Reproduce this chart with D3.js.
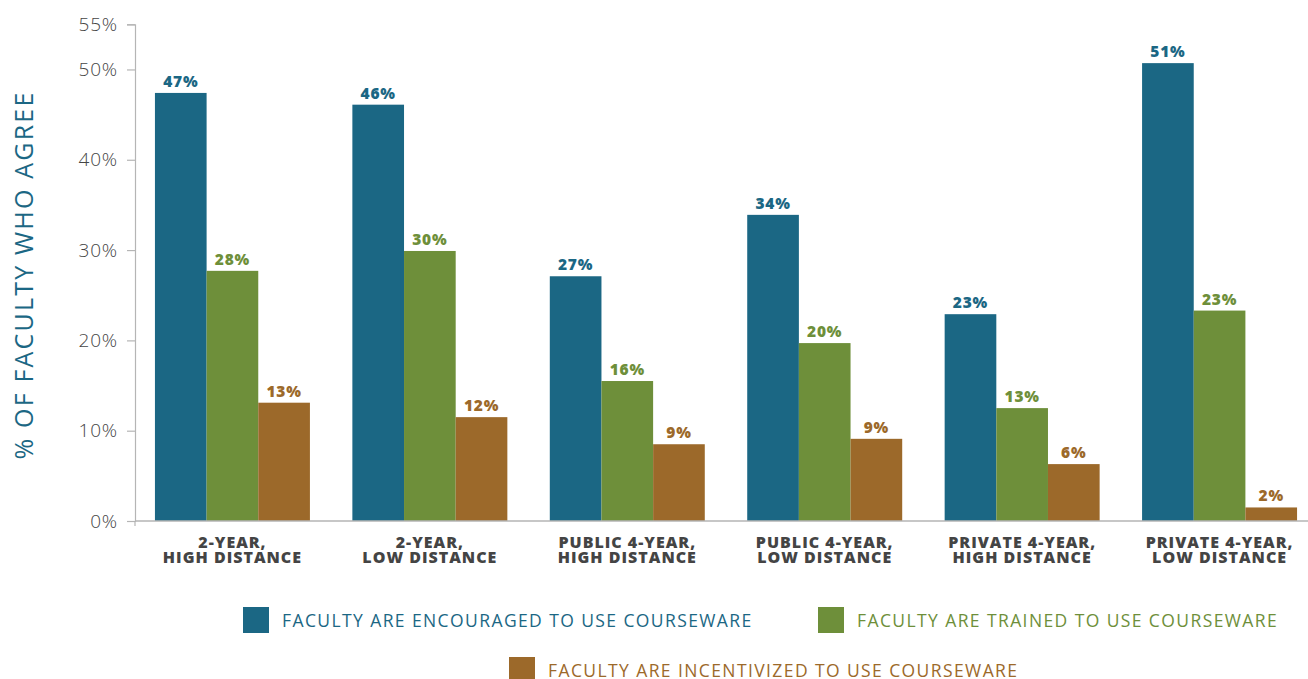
<!DOCTYPE html>
<html><head><meta charset="utf-8">
<script src="https://cdn.jsdelivr.net/npm/d3@7"></script>
<style>body{margin:0;background:#fff}svg{display:block}</style>
</head><body>
<svg id="c" width="1308" height="679"></svg>
<script>
const categories = [
  ["2-YEAR,", "HIGH DISTANCE"],
  ["2-YEAR,", "LOW DISTANCE"],
  ["PUBLIC 4-YEAR,", "HIGH DISTANCE"],
  ["PUBLIC 4-YEAR,", "LOW DISTANCE"],
  ["PRIVATE 4-YEAR,", "HIGH DISTANCE"],
  ["PRIVATE 4-YEAR,", "LOW DISTANCE"]
];
const seriesNames = [
  "FACULTY ARE ENCOURAGED TO USE COURSEWARE",
  "FACULTY ARE TRAINED TO USE COURSEWARE",
  "FACULTY ARE INCENTIVIZED TO USE COURSEWARE"
];
const encouraged = [47.4, 46.1, 27.1, 33.9, 22.9, 50.7];
const trained = [27.7, 29.9, 15.5, 19.7, 12.5, 23.3];
const incentivized = [13.1, 11.5, 8.5, 9.1, 6.3, 1.5];
const encouragedLabels = ["47%", "46%", "27%", "34%", "23%", "51%"];
const trainedLabels = ["28%", "30%", "16%", "20%", "13%", "23%"];
const incentivizedLabels = ["13%", "12%", "9%", "9%", "6%", "2%"];
const yTicks = [0, 10, 20, 30, 40, 50, 55];
const yTitle = "% OF FACULTY WHO AGREE";

const colors = ["#1b6784", "#6e8f3a", "#9c692a"];
const series = [
  {name: seriesNames[0], values: encouraged, labels: encouragedLabels},
  {name: seriesNames[1], values: trained, labels: trainedLabels},
  {name: seriesNames[2], values: incentivized, labels: incentivizedLabels}
];

const svg = d3.select("#c");
const y = d3.scaleLinear().domain([0, 55]).range([521, 24.3]);
const x0 = d3.scaleBand().domain(d3.range(categories.length)).range([135, 1317])
  .paddingInner(0.215).paddingOuter(0.101);
const x1 = d3.scaleBand().domain(d3.range(series.length)).range([0, x0.bandwidth()]);

// y axis
const yAxis = svg.append("g").attr("transform", "translate(135,0)")
  .call(d3.axisLeft(y).tickValues(yTicks).tickFormat(d => d + "%").tickSize(8).tickPadding(9));
yAxis.select(".domain").attr("stroke", "#b5b5b5").attr("stroke-width", 1.2);
yAxis.selectAll(".tick line").attr("stroke", "#b5b5b5").attr("stroke-width", 1.2);
yAxis.selectAll(".tick text").attr("fill", "#454545")
  .style("font-family", "'Open Sans', sans-serif").style("font-weight", 300)
  .style("font-size", "19px").style("letter-spacing", "0.8px");

// bars
const g = svg.append("g");
series.forEach((s, si) => {
  g.selectAll(".bar" + si).data(s.values).enter().append("rect")
    .attr("x", (d, i) => x0(i) + x1(si))
    .attr("y", d => y(d))
    .attr("width", x1.bandwidth())
    .attr("height", d => y(0) - y(d))
    .attr("fill", colors[si]);
  g.selectAll(".lab" + si).data(s.values).enter().append("text")
    .attr("x", (d, i) => x0(i) + x1(si) + x1.bandwidth() / 2)
    .attr("y", d => y(d) - 6)
    .attr("text-anchor", "middle")
    .attr("fill", colors[si])
    .style("font-family", "'Open Sans', sans-serif").style("font-weight", 800)
    .style("font-size", "15.5px").style("letter-spacing", "0.8px")
    .text((d, i) => s.labels[i]);
});

// baseline
svg.append("line").attr("x1", 135).attr("x2", 1308).attr("y1", y(0)).attr("y2", y(0))
  .attr("stroke", "#b5b5b5").attr("stroke-width", 1.5);
svg.append("line").attr("x1", 135).attr("x2", 135).attr("y1", y(0)).attr("y2", y(0) + 5)
  .attr("stroke", "#b5b5b5").attr("stroke-width", 1.2);

// category labels
const cl = svg.append("g");
categories.forEach((c, i) => {
  const cx = x0(i) + x0.bandwidth() / 2;
  c.forEach((line, li) => cl.append("text")
    .attr("x", cx).attr("y", 548 + li * 15)
    .attr("text-anchor", "middle").attr("fill", "#444")
    .style("font-family", "'Open Sans', sans-serif").style("font-weight", 800)
    .style("font-size", "16px").style("letter-spacing", "1px")
    .text(line));
});

// y title
svg.append("text").attr("transform", "translate(33,275) rotate(-90)")
  .attr("text-anchor", "middle").attr("fill", "#1b6784")
  .style("font-family", "'Open Sans', sans-serif").style("font-weight", 400)
  .style("font-size", "25px").style("letter-spacing", "2.2px")
  .text(yTitle);

// legend
const legendPos = [[243, 607], [818, 607], [509, 657]];
series.forEach((s, si) => {
  const [lx, ly] = legendPos[si];
  svg.append("rect").attr("x", lx).attr("y", ly).attr("width", 26).attr("height", 26)
    .attr("fill", colors[si]);
  svg.append("text").attr("x", lx + 39).attr("y", ly + 20).attr("fill", colors[si])
    .style("font-family", "'Open Sans', sans-serif").style("font-weight", 400)
    .style("font-size", "17.5px").style("letter-spacing", "1.4px")
    .text(s.name);
});
</script>
</body></html>
